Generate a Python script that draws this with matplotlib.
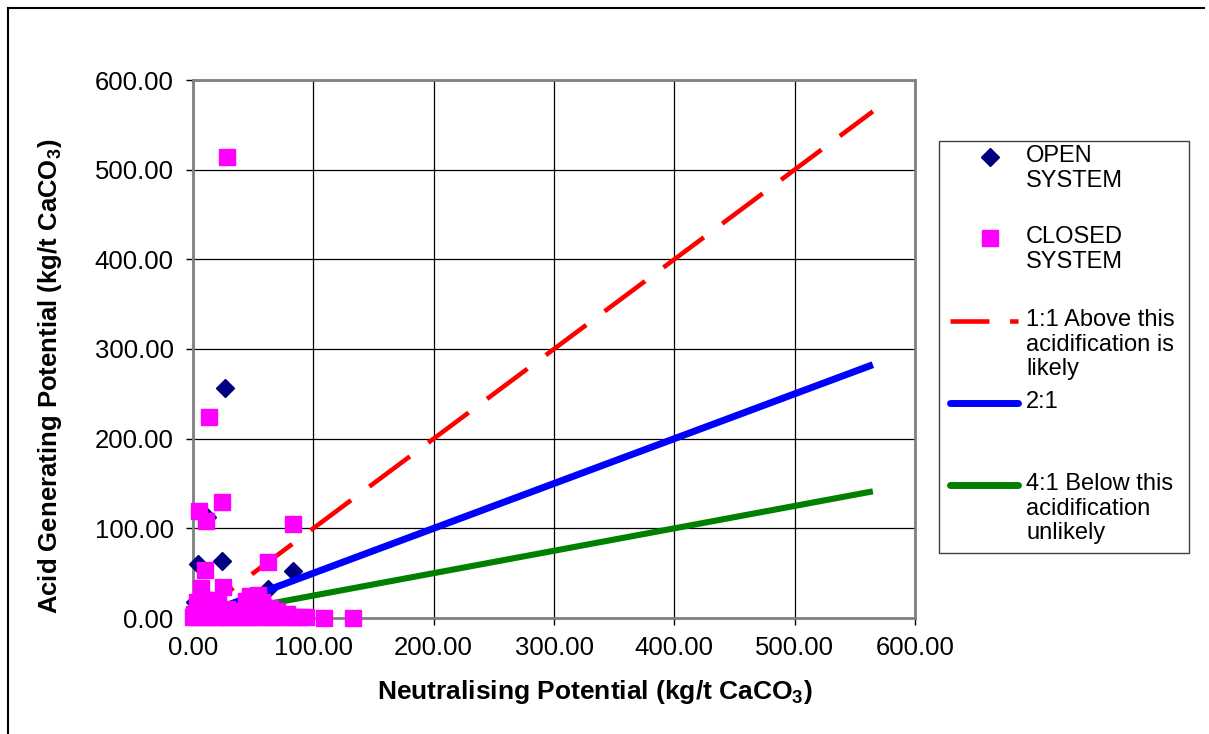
import matplotlib
matplotlib.use("Agg")
import matplotlib.pyplot as plt
from matplotlib.lines import Line2D
from matplotlib.patches import Rectangle

plt.rcParams['font.family'] = ['Liberation Sans', 'DejaVu Sans']
plt.rcParams['mathtext.fontset'] = 'custom'
plt.rcParams['mathtext.rm'] = 'Liberation Sans'
plt.rcParams['mathtext.bf'] = 'Liberation Sans:bold'

# Neutralising potential (NP) and acid generating potential (AGP), kg/t CaCO3
open_np = [27, 12, 4, 24, 83, 62, 2, 10, 20, 35, 45, 15, 30, 55]
open_agp = [257, 113, 60, 64, 52, 32, 18, 5, 3, 8, 2, 12, 6, 4]

closed_np = [28, 13, 24, 5, 11, 83, 62, 10, 7, 25, 47, 54, 109, 133,
             0, 5, 12, 18, 24, 30, 36, 42, 48, 55, 62, 68, 75, 82, 88, 94,
             1, 8, 14, 20, 28, 38, 45, 52, 58, 64, 70, 78,
             3, 9, 16, 21, 44, 50, 57, 8, 5]
closed_agp = [514, 224, 129, 119, 108, 105, 63, 53, 33, 35, 24, 26, 0, 0,
              1, 1, 1, 1, 1, 1, 1, 1, 1, 1, 1, 1, 1, 1, 1, 1,
              5, 9, 10, 9, 10, 8, 11, 12, 12, 11, 8, 5,
              18, 20, 20, 19, 19, 21, 18, 15, 8]

# Reference ratio lines (AGP = NP / ratio)
ratio_np = [0, 565]
ratio_11 = [0, 565]
ratio_21 = [0, 282.5]
ratio_41 = [0, 141.25]

xticks = [0, 100, 200, 300, 400, 500, 600]
yticks = [0, 100, 200, 300, 400, 500, 600]

W, H = 1209, 734
fig = plt.figure(figsize=(W / 100, H / 100), dpi=100)
ax = fig.add_axes([193 / W, 1 - 618 / H, (915 - 193) / W, (618 - 80) / H])

DIAMOND_MS = 9
SQUARE_MS = 11.3

ax.plot(open_np, open_agp, linestyle='none', marker='D', ms=DIAMOND_MS,
        color='#000080', clip_on=False, zorder=3)
ax.plot(ratio_np, ratio_11, color='#FF0000', lw=3.3, dashes=(11, 5),
        solid_capstyle='butt', zorder=4)
ax.plot(ratio_np, ratio_21, color='#0000FF', lw=5, zorder=4,
        solid_capstyle='butt')
ax.plot(ratio_np, ratio_41, color='#008000', lw=4.4, zorder=4,
        solid_capstyle='butt')
ax.plot(closed_np, closed_agp, linestyle='none', marker='s', ms=SQUARE_MS,
        color='#FF00FF', clip_on=False, zorder=5)

ax.set_xlim(0, 600)
ax.set_ylim(0, 600)
ax.set_xticks(xticks)
ax.set_yticks(yticks)
ax.set_xticklabels([f"{v:.2f}" for v in xticks])
ax.set_yticklabels([f"{v:.2f}" for v in yticks])
ax.tick_params(direction='out', length=5, width=1, color='black',
               labelsize=18.5)
ax.tick_params(axis='y', pad=9)
ax.tick_params(axis='x', pad=8)
ax.grid(True, color='black', lw=0.9)
ax.set_axisbelow(True)
for s in ax.spines.values():
    s.set_color('#808080')
    s.set_linewidth(2)

fig.text(595 / W, 1 - 692 / H, r'Neutralising Potential (kg/t CaCO$_\mathbf{3}$)',
         ha='center', va='center', fontsize=19, fontweight='bold')
fig.text(50 / W, 1 - 376 / H, r'Acid Generating Potential (kg/t CaCO$_\mathbf{3}$)',
         ha='center', va='center', fontsize=18.5, fontweight='bold', rotation=90)

# Outer chart border (top and left edges)
fig.add_artist(Line2D([8 / W, 8 / W], [0, 1 - 8 / H], color='black', lw=1.5))
fig.add_artist(Line2D([8 / W, 1204 / W], [1 - 8 / H, 1 - 8 / H], color='black', lw=1.5))


def fx(px):
    return px / W


def fy(py):
    return 1 - py / H


# Legend box
fig.add_artist(Rectangle((fx(939), fy(553)), (1189 - 939) / W, (553 - 141) / H,
                         facecolor='white', edgecolor='#404040', lw=1))

entries = [
    ('marker', dict(marker='D', ms=DIAMOND_MS, color='#000080'), 157, 'OPEN\nSYSTEM'),
    ('marker', dict(marker='s', ms=SQUARE_MS, color='#FF00FF'), 238, 'CLOSED\nSYSTEM'),
    ('line', dict(color='#FF0000', lw=3.3, dashes=(8.5, 4.5)), 321,
     '1:1 Above this\nacidification is\nlikely'),
    ('line', dict(color='#0000FF', lw=5), 403, '2:1'),
    ('line', dict(color='#008000', lw=5), 485, '4:1 Below this\nacidification\nunlikely'),
]
for kind, style, py, label in entries:
    if kind == 'marker':
        fig.add_artist(Line2D([fx(990)], [fy(py)], linestyle='none', **style))
    else:
        fig.add_artist(Line2D([fx(950), fx(1018)], [fy(py), fy(py)],
                              solid_capstyle='round', **style))
    fig.text(fx(1026), fy(py - 12), label, ha='left', va='top', fontsize=17,
             linespacing=1.15)

fig.savefig('out.png', dpi=100)
